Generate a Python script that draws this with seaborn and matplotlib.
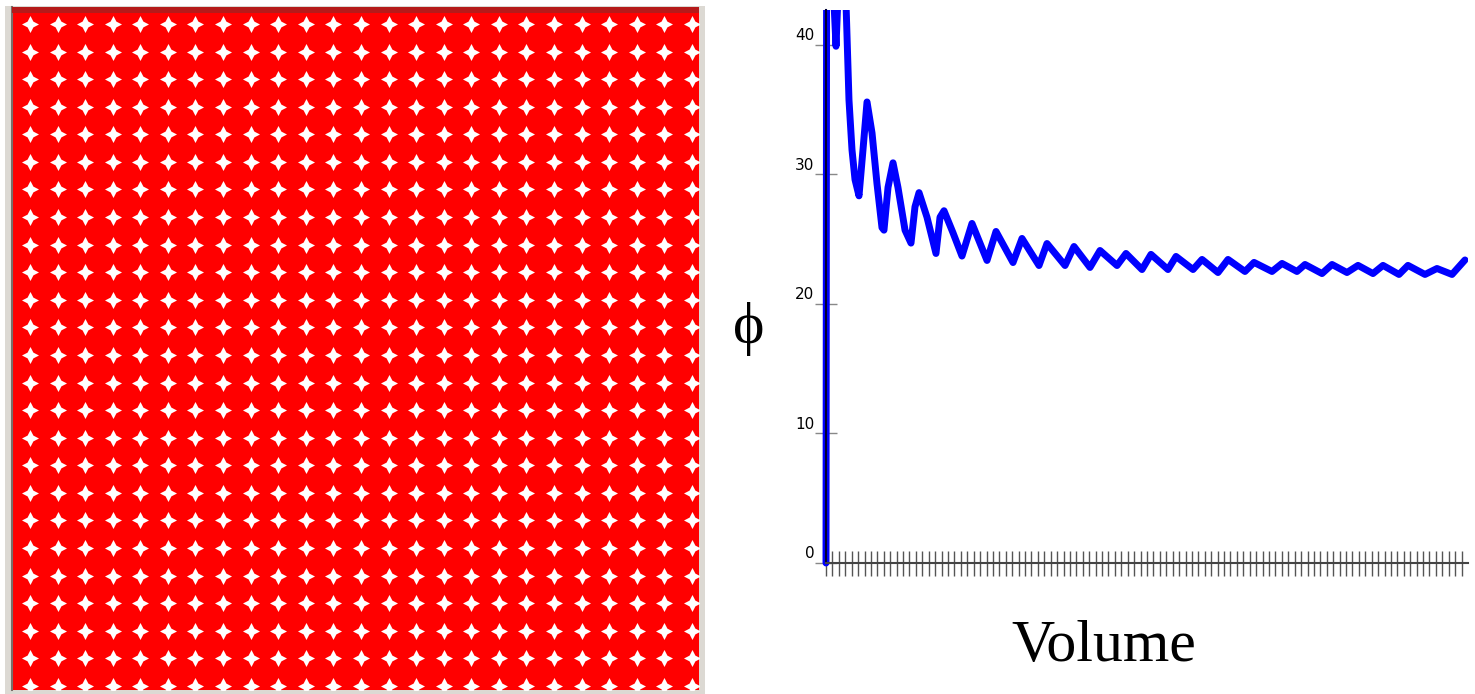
import numpy as np
import matplotlib
matplotlib.use("Agg")
from matplotlib import pyplot as plt
from matplotlib import transforms
from matplotlib.patches import Rectangle
import seaborn as sns

# left panel: 25 x 25 lattice of sites
star_cols = list(range(25))
star_rows = list(range(25))

# right panel: phi vs volume
volume = [0.0, 0.1, 0.8, 1.56, 2.2, 2.8, 3.1, 3.58, 4.05, 4.52, 5.14, 5.76, 6.39,
          7.17, 7.94, 8.72, 9.03, 9.66, 10.44, 11.21, 12.31, 13.24, 13.86, 14.49,
          15.73, 17.13, 17.76, 18.38, 19.78, 21.18, 22.74, 25.08, 26.48, 29.13,
          30.53, 33.18, 34.42, 37.23, 38.63, 41.12, 42.68, 45.33, 46.73, 49.22,
          50.62, 53.27, 54.52, 57.17, 58.57, 61.06, 62.62, 65.26, 66.67, 69.47,
          71.03, 73.36, 74.61, 77.26, 78.82, 81.15, 82.87, 85.20, 86.76, 89.25,
          90.65, 93.30, 95.17, 97.51, 99.53]
phi = [0.0, 48.0, 48.0, 39.9, 48.0, 48.0, 43.5, 35.75, 31.9, 29.6, 28.35, 31.9, 35.6,
       33.2, 29.3, 25.9, 25.7, 29.0, 30.9, 29.0, 25.7, 24.7, 27.5, 28.6,
       26.7, 23.9, 26.7, 27.2, 25.5, 23.7, 26.22, 23.36, 25.60, 23.20,
       25.06, 22.97, 24.67, 22.97, 24.44, 22.82, 24.13, 22.97, 23.90, 22.66,
       23.83, 22.66, 23.67, 22.66, 23.44, 22.43, 23.44, 22.51, 23.21, 22.51,
       23.13, 22.51, 23.05, 22.35, 23.05, 22.43, 22.98, 22.35, 22.98, 22.28,
       22.98, 22.28, 22.74, 22.28, 23.4]

phi_ticks = [0, 10, 20, 30, 40]
volume_ticks = list(range(0, 100))

W, H = 1475, 694


def box(x0, y0, x1, y1):
    # pixel box (top-left origin) -> figure fraction rect
    return [x0 / W, 1 - y1 / H, (x1 - x0) / W, (y1 - y0) / H]


sns.set_style("white")
fig = plt.figure(figsize=(W / 100, H / 100), dpi=100)

# grey frame behind the lattice picture
fig.add_artist(Rectangle((5 / W, 0), 700 / W, (H - 6) / H, transform=fig.transFigure,
                         facecolor="#dcd9d3", edgecolor="none", zorder=0))

# ---- left panel ----
ax1 = fig.add_axes(box(12, 7, 699, 690))
ax1.set_facecolor("#ff0000")
gx, gy = np.meshgrid(star_cols, star_rows)
star = [(0, 1), (0.34, 0.34), (1, 0), (0.34, -0.34), (0, -1), (-0.34, -0.34), (-1, 0), (-0.34, 0.34)]
sns.scatterplot(x=gx.ravel(), y=gy.ravel(), marker=star, s=150, color="white",
                linewidth=0, ax=ax1, legend=False)
step = 27.58
ax1.set_xlim(-18 / step, -18 / step + 687 / step)
ax1.set_ylim(-17 / step + 683 / step, -17 / step)
ax1.set_xticks([])
ax1.set_yticks([])
ax1.set_xlabel("")
ax1.set_ylabel("")
for s in ["top", "right", "bottom"]:
    ax1.spines[s].set_visible(False)
ax1.spines["left"].set_color("#7a6f6a")
ax1.spines["left"].set_linewidth(1.5)
ax1.add_patch(Rectangle((0, 1 - 6 / 683), 1, 6 / 683, transform=ax1.transAxes,
                        facecolor="#b51a1a", edgecolor="none", zorder=3))

# ---- right panel ----
ax2 = fig.add_axes(box(826, 10, 1468, 563))
ax2.set_facecolor("white")
sns.lineplot(x=volume, y=phi, ax=ax2, color="#0000ff", linewidth=5, sort=False, estimator=None)
line = ax2.lines[0]
line.set_solid_joinstyle("round")
line.set_clip_box(transforms.TransformedBbox(transforms.Bbox([[-0.02, -0.02], [1.0, 1.0]]),
                                             ax2.transAxes))
ax2.set_xlim(0, 100)
ax2.set_ylim(0, 42.7)
ax2.set_yticks(phi_ticks)
ax2.set_xticks(volume_ticks)
ax2.set_xticklabels([])
ax2.tick_params(axis="y", direction="inout", length=16.5, width=1, color="#888888",
                pad=0, labelsize=11, labelcolor="black", left=True)
ax2.tick_params(axis="x", direction="inout", length=18, width=1, color="#555555", bottom=True)
for s in ["top", "right"]:
    ax2.spines[s].set_visible(False)
ax2.spines["bottom"].set_color("#444444")
ax2.spines["bottom"].set_linewidth(1.5)
ax2.spines["left"].set_color("#000033")
ax2.spines["left"].set_linewidth(1.5)

# labels sit a little above their ticks
shift = transforms.ScaledTranslation(0, 0.105, fig.dpi_scale_trans)
for lbl in ax2.get_yticklabels():
    lbl.set_transform(lbl.get_transform() + shift)

serif = ["Liberation Serif", "DejaVu Serif"]
ax2.set_xlabel("Volume", fontsize=43, family=serif, va="baseline", color="black")
ax2.xaxis.set_label_coords(0.433, -0.177)
ax2.set_ylabel("\u03d5", rotation=0, fontsize=43, family=serif, ha="center", va="center",
               color="black")
ax2.yaxis.set_label_coords(-0.12, 0.423)

fig.savefig("out.png", dpi=100)
